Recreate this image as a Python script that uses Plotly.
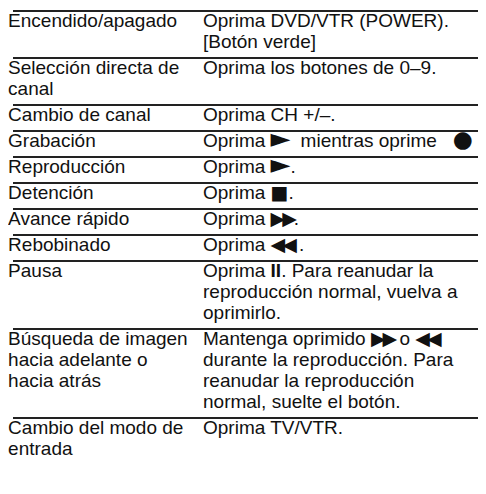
import plotly.graph_objects as go

# ---- data ----
actions = [
    "Encendido/apagado",
    "Selección directa de<br>canal",
    "Cambio de canal",
    "Grabación",
    "Reproducción",
    "Detención",
    "Avance rápido",
    "Rebobinado",
    "Pausa",
    "Búsqueda de imagen<br>hacia adelante o<br>hacia atrás",
    "Cambio del modo de<br>entrada",
]
operations = [
    "Oprima DVD/VTR (POWER).<br>[Botón verde]",
    "Oprima los botones de 0–9.",
    "Oprima CH +/–.",
    "Oprima ► mientras oprime ●",
    "Oprima ►.",
    "Oprima ■.",
    "Oprima ▶▶.",
    "Oprima ◀◀.",
    "Oprima ❚❚. Para reanudar la<br>reproducción normal, vuelva a<br>oprimirlo.",
    "Mantenga oprimido ▶▶ o ◀◀<br>durante la reproducción. Para<br>reanudar la reproducción<br>normal, suelte el botón.",
    "Oprima TV/VTR.",
]

# ---- layout / style constants ----
W, H = 486, 494
X0 = -3             # x-axis starts here so the left text anchor lies inside it
top = 3
first_pad = 11      # rule -> first text line centre
line_gap = 21       # text line spacing
bottom_pad = 15     # last text line centre -> next rule
x_left, x_right = -2.9, 192   # scatter text sits ~7px right of its anchor
rule_x0, rule_x1 = 2, 480
font = dict(family="Liberation Sans, Arial, DejaVu Sans", size=19, color="#111")

sym = {
    "► ": '<span style="font-family:DejaVu Sans;font-size:26px">►</span>\u2005 ',
    "►": '<span style="font-family:DejaVu Sans;font-size:26px">►</span>',
    "▶▶": '<span style="font-family:DejaVu Sans;font-size:19px;letter-spacing:-3px">▶▶</span>',
    "◀◀": '<span style="font-family:DejaVu Sans;font-size:19px;letter-spacing:-3px">◀◀</span> ',
    "■": '<span style="font-family:DejaVu Sans;font-size:19px">■</span>',
    "●": '  <span style="font-family:DejaVu Sans;font-size:23px">●</span>',
    "❚❚": "<b>II</b>",
}


def styled(s):
    for k in ["▶▶", "◀◀", "❚❚", "► ", "►", "■", "●"]:
        s = s.replace(k, sym[k])
    return s


tx, ty, tt = [], [], []
rx, ry = [], []
y = top
for a, o in zip(actions, operations):
    rx += [rule_x0, rule_x1, None]
    ry += [y, y, None]
    la, lo = a.split("<br>"), o.split("<br>")
    n = max(len(la), len(lo))
    for i, s in enumerate(la):
        tx.append(x_left); ty.append(y + first_pad + i * line_gap); tt.append(s)
    for i, s in enumerate(lo):
        tx.append(x_right); ty.append(y + first_pad + i * line_gap); tt.append(styled(s))
    y = y + first_pad + (n - 1) * line_gap + bottom_pad

fig = go.Figure()
fig.add_trace(go.Scatter(x=rx, y=ry, mode="lines",
                         line=dict(color="#222", width=2), hoverinfo="skip"))
fig.add_trace(go.Scatter(x=tx, y=ty, mode="text", text=tt,
                         textposition="middle right", textfont=font,
                         cliponaxis=False, hoverinfo="skip"))
fig.update_layout(
    width=W, height=H, margin=dict(l=0, r=0, t=0, b=0),
    paper_bgcolor="white", plot_bgcolor="white", showlegend=False,
    xaxis=dict(range=[X0, X0 + W], visible=False, fixedrange=True),
    yaxis=dict(range=[H, 0], visible=False, fixedrange=True),
)
fig.write_html("out.html")
